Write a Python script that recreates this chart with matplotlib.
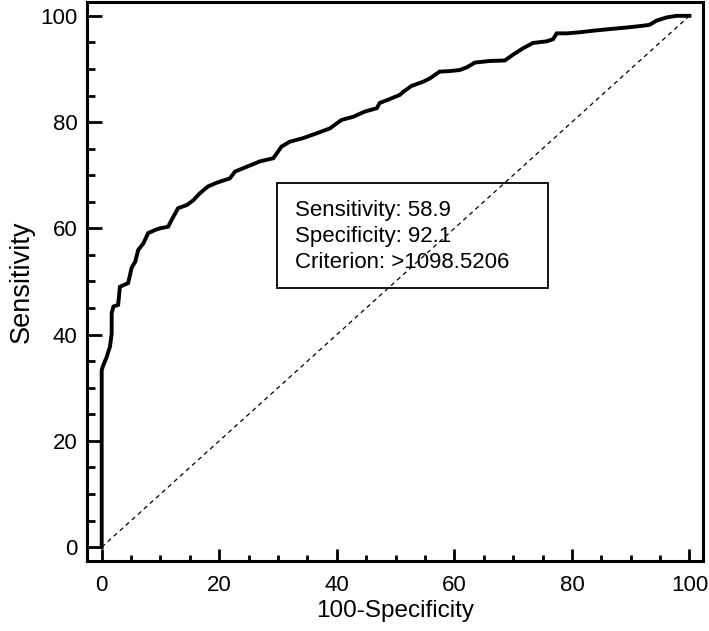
import matplotlib
matplotlib.use("Agg")
import matplotlib.pyplot as plt
from matplotlib.patches import Rectangle
from matplotlib.ticker import MultipleLocator

plt.rcParams['font.family'] = ['Liberation Sans', 'DejaVu Sans']

# ROC curve (100-Specificity vs Sensitivity)
fpr = [0, 0, 0.2, 0.85, 1.4, 1.7, 1.7, 2.0, 2.8, 3.1,
       4.5, 5.1, 5.7, 6.2, 7.1, 7.9, 9.1, 9.9, 11.3, 11.9,
       13.0, 14.5, 15.6, 16.7, 18.1, 19.6, 21.8, 22.7, 24.7, 26.9,
       29.2, 30.6, 32.0, 34.3, 36.6, 38.8, 40.8, 42.8, 44.8, 46.8,
       47.3, 48.7, 50.7, 51.3, 52.7, 54.7, 55.8, 57.5, 59.2, 60.9,
       62.1, 63.5, 66.0, 68.6, 70.0, 71.7, 73.4, 75.7, 76.8, 77.4,
       79.1, 81.3, 83.6, 86.4, 89.3, 91.8, 93.2, 94.4, 96.1, 97.8,
       100]
tpr = [0, 33.3, 34.0, 35.8, 37.7, 40.2, 44.0, 45.3, 45.6, 49.0,
       49.7, 52.6, 53.7, 55.9, 57.2, 59.1, 59.7, 60.0, 60.3, 61.6,
       63.8, 64.4, 65.3, 66.6, 67.9, 68.6, 69.4, 70.7, 71.6, 72.6,
       73.2, 75.4, 76.3, 77.0, 77.9, 78.8, 80.4, 81.0, 82.0, 82.6,
       83.6, 84.2, 85.1, 85.7, 86.8, 87.6, 88.2, 89.5, 89.6, 89.8,
       90.3, 91.2, 91.5, 91.6, 92.7, 93.9, 94.9, 95.2, 95.6, 96.7,
       96.7, 96.9, 97.2, 97.5, 97.8, 98.1, 98.3, 99.1, 99.7, 100,
       100]
diag = [0, 100]
box_lines = ['Sensitivity: 58.9', 'Specificity: 92.1', 'Criterion: >1098.5206']

fig = plt.figure(figsize=(7.09, 6.31), dpi=100)
ax = fig.add_axes([0.1227, 0.111, 0.8688, 0.8858])

# chance line and ROC curve
ax.plot(diag, diag, color='black', linewidth=0.9, linestyle=(0, (3.5, 3)))
ax.plot(fpr, tpr, color='black', linewidth=2.8, solid_joinstyle='miter')

ax.set_xlim(-2.5, 102.3)
ax.set_ylim(-2.6, 102.6)
ax.xaxis.set_major_locator(MultipleLocator(20))
ax.xaxis.set_minor_locator(MultipleLocator(5))
ax.yaxis.set_major_locator(MultipleLocator(20))
ax.yaxis.set_minor_locator(MultipleLocator(5))
ax.tick_params(which='both', direction='in', width=2, labelsize=16, top=False, right=False)
ax.tick_params(axis='x', which='major', length=9, pad=10)
ax.tick_params(axis='x', which='minor', length=4.5)
ax.tick_params(axis='y', which='major', length=11, pad=7)
ax.tick_params(axis='y', which='minor', length=5.5)
for s in ax.spines.values():
    s.set_linewidth(2.2)

ax.set_xlabel('100-Specificity', fontsize=17.5, labelpad=3)
ax.set_ylabel('Sensitivity', fontsize=19.5, labelpad=4)

# criterion box
ax.add_patch(Rectangle((29.8, 48.8), 46.1, 19.7, fill=False, edgecolor='black', linewidth=1.3))
for i, line in enumerate(box_lines):
    ax.text(32.9, 63.4 - i * 4.95, line, fontsize=16, va='center', ha='left')

fig.savefig('out.png', dpi=100)
